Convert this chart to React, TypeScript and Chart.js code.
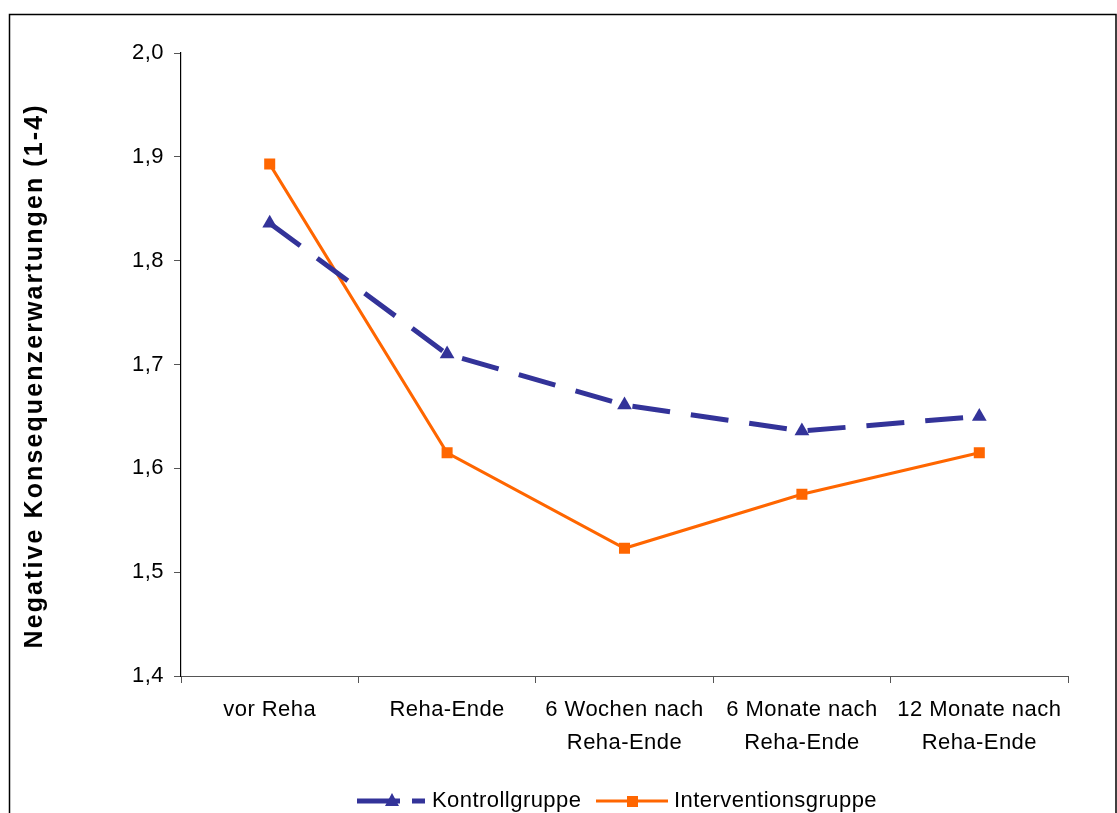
import React, { useEffect, useRef } from "react";
import { Chart, registerables } from "chart.js";

Chart.register(...registerables);

const categories: string[][] = [
  ["vor Reha"],
  ["Reha-Ende"],
  ["6 Wochen nach", "Reha-Ende"],
  ["6 Monate nach", "Reha-Ende"],
  ["12 Monate nach", "Reha-Ende"],
];
const kontrollValues = [1.836, 1.71, 1.661, 1.636, 1.65];
const interventionValues = [1.893, 1.615, 1.523, 1.575, 1.615];
const seriesNames = ["Kontrollgruppe", "Interventionsgruppe"];
const yTitle = "Negative Konsequenzerwartungen (1-4)";
const yMin = 1.4;
const yMax = 2.0;
const yStep = 0.1;

const FONT = "Arial, 'Liberation Sans', sans-serif";
const BLUE = "#333399";
const ORANGE = "#FF6600";
const SPACING = "0.45px";

const decorPlugin = {
  id: "decor",
  beforeLayout(chart: any) {
    chart.ctx.letterSpacing = SPACING;
  },
  beforeDraw(chart: any) {
    const ctx = chart.ctx;
    ctx.letterSpacing = SPACING;
    ctx.save();
    ctx.fillStyle = "#ffffff";
    ctx.fillRect(0, 0, chart.width, chart.height);
    ctx.strokeStyle = "#000000";
    ctx.lineWidth = 1.5;
    ctx.strokeRect(9.5, 14.5, 1106.5, 830);
    ctx.restore();
  },
  afterDraw(chart: any) {
    const ctx = chart.ctx;
    ctx.save();
    // y-axis title
    ctx.translate(35, 377);
    ctx.rotate(-Math.PI / 2);
    ctx.font = `bold 25px ${FONT}`;
    ctx.letterSpacing = "0px";
    const w = ctx.measureText(yTitle).width;
    const extra = (543 - w) / (yTitle.length - 1);
    ctx.letterSpacing = `${Math.max(0, extra)}px`;
    ctx.fillStyle = "#000";
    ctx.textAlign = "left";
    ctx.textBaseline = "middle";
    ctx.fillText(yTitle, -543 / 2, 0);
    ctx.restore();

    // legend
    ctx.save();
    const ly = 801;
    ctx.font = `22px ${FONT}`;
    ctx.letterSpacing = SPACING;
    ctx.fillStyle = "#000";
    ctx.textBaseline = "middle";
    ctx.textAlign = "left";
    // Kontroll sample
    ctx.strokeStyle = BLUE;
    ctx.lineWidth = 5;
    ctx.setLineDash([43, 12]);
    ctx.beginPath();
    ctx.moveTo(357, ly);
    ctx.lineTo(425, ly);
    ctx.stroke();
    ctx.setLineDash([]);
    ctx.fillStyle = BLUE;
    ctx.beginPath();
    ctx.moveTo(392, ly - 8);
    ctx.lineTo(399, ly + 5);
    ctx.lineTo(385, ly + 5);
    ctx.closePath();
    ctx.fill();
    ctx.fillStyle = "#000";
    ctx.fillText(seriesNames[0], 432, ly);
    // Intervention sample
    ctx.strokeStyle = ORANGE;
    ctx.lineWidth = 3;
    ctx.beginPath();
    ctx.moveTo(596, ly);
    ctx.lineTo(668, ly);
    ctx.stroke();
    ctx.fillStyle = ORANGE;
    ctx.fillRect(627, ly - 5, 11, 11);
    ctx.fillStyle = "#000";
    ctx.fillText(seriesNames[1], 674, ly);
    ctx.restore();
  },
};

export default function App() {
  const ref = useRef<HTMLCanvasElement | null>(null);
  useEffect(() => {
    if (!ref.current) return;
    const chart = new Chart(ref.current, {
      type: "line",
      data: {
        labels: categories,
        datasets: [
          {
            label: seriesNames[0],
            data: kontrollValues,
            borderColor: BLUE,
            backgroundColor: BLUE,
            borderWidth: 5,
            borderDash: [38, 21],
            pointStyle: "triangle",
            pointRadius: 8.5,
            pointBorderWidth: 0,
            tension: 0,
          },
          {
            label: seriesNames[1],
            data: interventionValues,
            borderColor: ORANGE,
            backgroundColor: ORANGE,
            borderWidth: 3,
            pointStyle: "rect",
            pointRadius: 7.8,
            pointBorderWidth: 0,
            tension: 0,
          },
        ],
      },
      options: {
        animation: false,
        responsive: false,
        devicePixelRatio: 1,
        layout: { padding: { left: 0, right: 49, top: 53, bottom: 0 } },
        plugins: {
          legend: { display: false },
          tooltip: { enabled: false },
        },
        scales: {
          x: {
            type: "category",
            offset: true,
            afterFit: (s: any) => {
              s.height = 137;
            },
            grid: {
              offset: true,
              drawOnChartArea: false,
              drawTicks: true,
              tickLength: 7,
              color: "#555",
              lineWidth: 1,
            },
            border: { color: "#555", width: 1 },
            ticks: {
              color: "#000",
              font: { family: FONT, size: 22, lineHeight: 1.5 },
              padding: 10,
              maxRotation: 0,
              autoSkip: false,
            },
          },
          y: {
            min: yMin,
            max: yMax,
            afterFit: (s: any) => {
              s.width = 181;
            },
            grid: {
              drawOnChartArea: false,
              drawTicks: true,
              tickLength: 7,
              color: "#555",
              lineWidth: 1,
            },
            border: { color: "#000", width: 1.2 },
            ticks: {
              stepSize: yStep,
              color: "#000",
              font: { family: FONT, size: 22 },
              padding: 10,
              callback: (v: any) => Number(v).toFixed(1).replace(".", ","),
            },
          },
        },
      },
      plugins: [decorPlugin],
    });
    return () => chart.destroy();
  }, []);
  return (
    <div style={{ position: "absolute", left: 0, top: 0, width: 1117, height: 813 }}>
      <canvas ref={ref} width={1117} height={813} style={{ display: "block" }} />
    </div>
  );
}
